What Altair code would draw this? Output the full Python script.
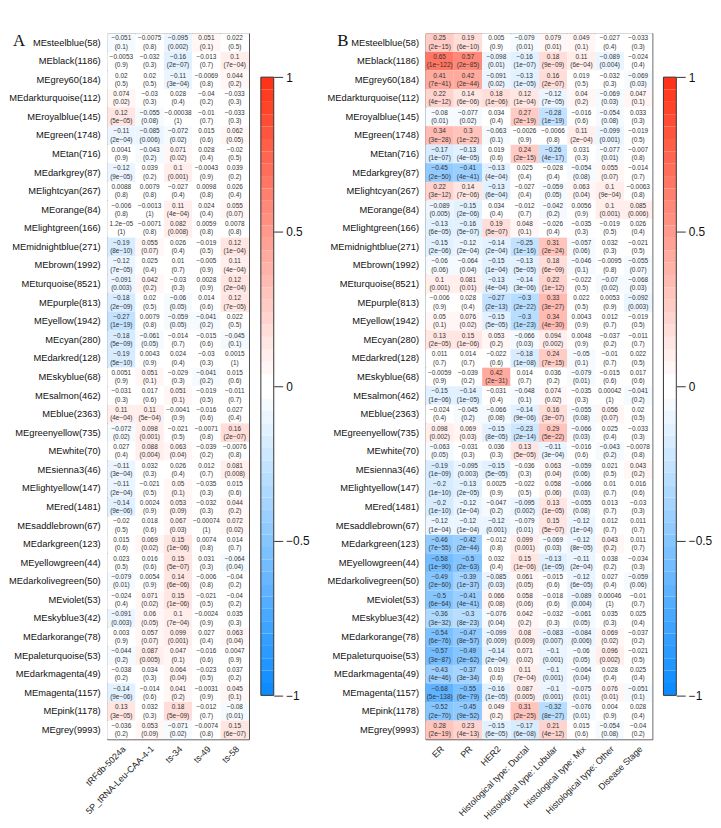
import altair as alt
import pandas as pd
import numpy as np

modules = ["MEsteelblue(58)", "MEblack(1186)", "MEgrey60(184)", "MEdarkturquoise(112)", "MEroyalblue(145)",
           "MEgreen(1748)", "MEtan(716)", "MEdarkgrey(87)", "MElightcyan(267)", "MEorange(84)",
           "MElightgreen(166)", "MEmidnightblue(271)", "MEbrown(1992)", "MEturquoise(8521)", "MEpurple(813)",
           "MEyellow(1942)", "MEcyan(280)", "MEdarkred(128)", "MEskyblue(68)", "MEsalmon(462)",
           "MEblue(2363)", "MEgreenyellow(735)", "MEwhite(70)", "MEsienna3(46)", "MElightyellow(147)",
           "MEred(1481)", "MEsaddlebrown(67)", "MEdarkgreen(123)", "MEyellowgreen(44)", "MEdarkolivegreen(50)",
           "MEviolet(53)", "MEskyblue3(42)", "MEdarkorange(78)", "MEpaleturquoise(53)", "MEdarkmagenta(49)",
           "MEmagenta(1157)", "MEpink(1178)", "MEgrey(9993)"]

traits_a = ["tRFdb-5024a", "5P_tRNA-Leu-CAA-4-1", "ts-34", "ts-49", "ts-58"]
traits_b = ["ER", "PR", "HER2", "Histological type: Ductal", "Histological type: Lobular",
            "Histological type: Mix", "Histological type: Other", "Disease Stage"]

# ---- Panel A: correlation / p-value, one list per column ----
a1_r = "-0.051 -0.0053 0.02 0.074 0.12 -0.11 0.0041 -0.12 0.0088 -0.006 1.2e-05 -0.19 -0.12 -0.091 -0.18 -0.27 -0.18 -0.19 0.0051 -0.031 0.11 -0.072 0.027 -0.11 -0.11 -0.14 -0.02 0.015 0.023 -0.079 -0.024 -0.091 0.003 -0.044 -0.038 -0.14 0.13 -0.036".split()
a1_p = "0.1 0.9 0.5 0.02 5e-05 2e-04 0.9 9e-05 0.8 0.8 1 8e-10 7e-05 0.003 2e-09 1e-19 5e-09 5e-10 0.9 0.3 4e-04 0.02 0.4 3e-04 2e-04 9e-06 0.5 0.6 0.5 0.01 0.4 0.003 0.9 0.2 0.2 9e-06 3e-05 0.2".split()
a2_r = "-0.0075 -0.032 0.02 -0.03 -0.055 -0.085 -0.043 0.039 0.0079 -0.0013 -0.0071 0.055 0.025 0.042 0.02 0.0079 -0.061 0.0043 0.051 0.017 0.11 0.098 0.088 0.032 -0.021 0.0024 0.018 0.069 0.016 0.0054 0.071 0.06 0.057 0.087 0.034 -0.014 0.032 0.053".split()
a2_p = "0.8 0.3 0.5 0.3 0.08 0.006 0.2 0.2 0.8 1 0.8 0.07 0.4 0.2 0.5 0.8 0.05 0.9 0.1 0.6 5e-04 0.001 0.004 0.3 0.5 0.9 0.6 0.02 0.6 0.9 0.02 0.05 0.07 0.005 0.3 0.6 0.3 0.09".split()
a3_r = "-0.095 -0.16 -0.11 0.028 -0.00038 -0.072 0.071 0.1 -0.027 0.11 0.082 0.026 0.01 -0.03 -0.06 -0.059 -0.014 0.024 -0.029 0.051 -0.0041 -0.021 0.063 0.026 0.05 0.053 0.067 0.15 0.15 0.14 0.15 0.1 0.099 0.047 0.064 0.041 0.18 -0.071".split()
a3_p = "0.002 2e-07 3e-04 0.4 1 0.02 0.02 0.001 0.4 4e-04 0.008 0.4 0.7 0.3 0.05 0.05 0.7 0.4 0.3 0.1 0.9 0.5 0.04 0.4 0.1 0.09 0.03 1e-06 5e-07 6e-06 1e-06 7e-04 0.001 0.1 0.04 0.2 5e-09 0.02".split()
a4_r = "0.051 -0.013 -0.0069 -0.04 -0.01 0.015 0.028 -0.0043 0.0098 0.024 0.0059 -0.019 -0.005 0.0028 0.014 -0.041 -0.015 -0.03 -0.041 -0.019 -0.016 -0.0071 -0.039 0.012 -0.035 -0.032 -0.00074 0.0074 0.031 -0.006 -0.021 -0.0024 0.027 -0.016 -0.023 -0.0031 -0.012 -0.0074".split()
a4_p = "0.1 0.7 0.8 0.2 0.7 0.6 0.4 0.9 0.8 0.4 0.8 0.5 0.9 0.9 0.6 0.2 0.6 0.3 0.2 0.5 0.6 0.8 0.2 0.7 0.3 0.3 1 0.8 0.3 0.8 0.5 0.9 0.4 0.6 0.5 0.9 0.7 0.8".split()
a5_r = "0.022 0.1 0.044 -0.033 -0.033 0.062 -0.02 0.039 0.026 0.055 0.0078 0.12 0.11 0.12 0.12 0.022 -0.045 0.0015 0.015 -0.011 0.027 0.16 -0.0076 0.081 0.015 0.044 0.072 0.014 -0.064 -0.04 -0.04 0.035 0.063 0.0047 0.037 0.045 -0.08 0.15".split()
a5_p = "0.5 7e-04 0.2 0.3 0.3 0.05 0.5 0.2 0.4 0.07 0.8 1e-04 4e-04 2e-04 7e-05 0.5 0.1 1 0.6 0.7 0.4 2e-07 0.8 0.008 0.6 0.2 0.02 0.7 0.04 0.2 0.2 0.3 0.04 0.9 0.2 0.1 0.01 6e-07".split()

# ---- Panel B ----
b1_r = "0.25 0.65 0.41 0.22 -0.08 0.34 -0.17 -0.45 0.22 -0.089 -0.13 -0.15 -0.06 0.1 -0.006 0.05 0.13 0.011 -0.0059 -0.15 -0.024 0.098 -0.063 -0.19 -0.2 -0.2 -0.12 -0.46 -0.58 -0.49 -0.5 -0.36 -0.54 -0.57 -0.43 -0.68 -0.52 0.28".split()
b1_p = "2e-15 1e-122 7e-41 4e-12 0.01 3e-28 1e-07 2e-50 3e-12 0.005 6e-05 2e-06 0.06 0.001 0.9 0.1 2e-05 0.7 0.9 1e-06 0.4 0.002 0.05 1e-09 1e-10 1e-10 1e-04 7e-55 1e-90 2e-60 6e-64 3e-32 6e-76 3e-87 4e-46 5e-138 2e-70 2e-19".split()
b2_r = "0.19 0.57 0.42 0.14 -0.077 0.3 -0.13 -0.41 0.14 -0.15 -0.16 -0.12 -0.064 0.081 0.028 0.076 0.15 0.014 -0.039 -0.14 -0.045 0.069 -0.031 -0.095 -0.13 -0.12 -0.12 -0.42 -0.5 -0.39 -0.41 -0.3 -0.47 -0.49 -0.37 -0.55 -0.45 0.23".split()
b2_p = "6e-10 2e-85 2e-44 6e-06 0.02 1e-22 4e-05 4e-41 7e-06 2e-06 5e-07 2e-04 0.04 0.01 0.4 0.02 1e-06 0.7 0.2 1e-05 0.2 0.03 0.3 0.003 2e-05 1e-04 1e-04 2e-44 2e-63 1e-37 4e-41 8e-23 8e-57 2e-62 3e-34 6e-79 9e-52 4e-13".split()
b3_r = "0.005 -0.098 -0.091 0.18 0.034 -0.063 0.019 -0.13 -0.13 0.034 0.19 -0.14 -0.15 -0.13 -0.27 -0.15 0.053 -0.022 0.42 -0.031 -0.066 -0.15 0.036 -0.15 0.0025 -0.047 -0.12 -0.012 0.032 -0.085 0.066 -0.076 -0.099 -0.14 0.019 -0.16 0.049 -0.15".split()
b3_p = "0.9 0.01 0.02 1e-06 0.4 0.1 0.6 4e-04 6e-04 0.4 5e-07 2e-04 1e-04 4e-04 2e-13 5e-05 0.2 0.6 2e-31 0.4 0.08 8e-05 0.3 5e-05 0.9 0.2 0.001 0.8 0.4 0.03 0.08 0.04 0.009 2e-04 0.6 1e-05 0.2 6e-05".split()
b4_r = "-0.079 -0.16 -0.13 0.12 0.27 -0.0026 0.24 0.025 -0.027 -0.012 0.048 -0.25 -0.13 -0.14 -0.3 -0.3 -0.066 -0.18 0.014 -0.048 -0.14 -0.23 0.13 -0.036 -0.022 -0.095 -0.079 0.099 0.15 0.061 0.058 0.042 0.08 0.071 0.11 0.087 0.31 -0.17".split()
b4_p = "0.01 1e-07 1e-05 1e-04 2e-19 0.9 2e-15 0.4 0.4 0.7 0.1 1e-16 5e-05 3e-06 2e-22 1e-23 0.03 1e-08 0.7 0.1 9e-06 2e-14 5e-05 0.3 0.5 0.002 0.01 0.001 1e-06 0.05 0.06 0.2 0.009 0.02 7e-04 0.005 2e-25 6e-08".split()
b5_r = "0.079 0.18 0.16 -0.12 -0.28 -0.0066 -0.26 -0.028 -0.059 -0.042 -0.026 0.31 0.18 0.22 0.33 0.34 0.094 0.24 0.036 0.074 0.16 0.29 -0.11 0.063 0.058 0.13 0.15 -0.069 -0.13 -0.015 -0.018 -0.032 -0.083 -0.1 -0.1 -0.1 -0.32 0.21".split()
b5_p = "0.01 9e-09 2e-07 7e-05 1e-19 0.8 4e-17 0.4 0.05 0.2 0.4 2e-24 6e-09 1e-12 3e-27 4e-30 0.002 7e-15 0.2 0.02 3e-07 5e-22 3e-04 0.04 0.06 1e-05 5e-07 0.03 1e-05 0.6 0.6 0.3 0.007 0.001 0.001 0.001 8e-27 4e-12".split()
b6_r = "0.049 0.11 0.019 0.04 -0.016 0.11 0.031 -0.054 0.063 0.0056 -0.035 -0.057 -0.046 -0.022 0.022 0.0043 0.0048 -0.05 -0.079 -0.035 -0.055 -0.066 -0.016 -0.059 -0.066 -0.055 -0.12 -0.12 -0.11 -0.12 -0.089 -0.061 -0.084 -0.06 -0.064 -0.075 -0.076 0.015".split()
b6_p = "0.1 6e-04 0.5 0.2 0.6 2e-04 0.3 0.08 0.04 0.9 0.3 0.06 0.1 0.5 0.5 0.9 0.9 0.1 0.01 0.3 0.08 0.03 0.6 0.06 0.03 0.08 1e-04 8e-05 2e-04 6e-05 0.004 0.05 0.006 0.05 0.04 0.01 0.01 0.6".split()
b7_r = "-0.027 -0.089 -0.032 -0.069 -0.054 -0.099 -0.077 0.055 0.1 0.1 -0.019 0.032 -0.0095 -0.07 0.0053 0.012 -0.037 -0.01 -0.015 0.00042 0.056 0.025 -0.043 0.021 0.01 0.013 0.012 0.043 0.038 0.027 0.00046 0.035 0.069 0.096 0.028 0.076 0.004 -0.054".split()
b7_p = "0.4 0.004 0.3 0.03 0.08 0.001 0.01 0.07 9e-04 0.001 0.5 0.3 0.8 0.02 0.9 0.7 0.2 0.7 0.6 1 0.07 0.4 0.2 0.5 0.7 0.7 0.7 0.2 0.2 0.4 1 0.3 0.02 0.002 0.4 0.01 0.9 0.08".split()
b8_r = "-0.033 -0.024 -0.069 0.047 0.033 -0.019 -0.007 -0.014 -0.0063 0.085 0.026 -0.021 -0.055 -0.068 -0.092 -0.019 -0.011 0.022 0.017 -0.041 0.02 -0.033 -0.0078 0.043 0.016 -0.03 0.011 0.011 -0.034 -0.059 -0.01 0.025 -0.037 -0.021 0.025 -0.051 0.028 -0.04".split()
b8_p = "0.3 0.4 0.03 0.1 0.3 0.5 0.8 0.7 0.8 0.006 0.4 0.5 0.07 0.03 0.003 0.5 0.7 0.5 0.6 0.2 0.5 0.3 0.8 0.2 0.6 0.3 0.7 0.7 0.3 0.06 0.7 0.4 0.2 0.5 0.4 0.1 0.4 0.2".split()

A_r = [a1_r, a2_r, a3_r, a4_r, a5_r]
A_p = [a1_p, a2_p, a3_p, a4_p, a5_p]
B_r = [b1_r, b2_r, b3_r, b4_r, b5_r, b6_r, b7_r, b8_r]
B_p = [b1_p, b2_p, b3_p, b4_p, b5_p, b6_p, b7_p, b8_p]

MINUS = "\u2212"


def long_table(traits, rcols, pcols):
    recs = []
    for t, rl, pl in zip(traits, rcols, pcols):
        for m, r, p in zip(modules, rl, pl):
            recs.append({"module": m, "trait": t, "r": float(r),
                         "rtxt": r.replace("-", MINUS),
                         "ptxt": "(" + p.replace("-", MINUS) + ")"})
    return pd.DataFrame(recs)


dfA = long_table(traits_a, A_r, A_p)
dfB = long_table(traits_b, B_r, B_p)

# WGCNA-style blueWhiteRed(50) palette
blue_end = np.array([0.05, 0.55, 1.0])
red_end = np.array([1.0, 0.2, 0.09])
white = np.array([1.0, 1.0, 1.0])
steps = np.linspace(0, 1, 25)
pal = [blue_end + (white - blue_end) * s for s in steps] + [white + (red_end - white) * s for s in steps]
palette = ["#%02x%02x%02x" % tuple(int(round(c * 255)) for c in col) for col in pal]
color_scale = alt.Scale(type="quantize", domain=[-1, 1], range=palette)

FONT = "Liberation Sans"
H = 712
CELL = 28.6


def heatmap(df, traits, panel, panel_x):
    base = alt.Chart(df).encode(
        x=alt.X("trait:N", sort=traits,
                axis=alt.Axis(title=None, labelAngle=-45, ticks=False, domain=False,
                              labelFontSize=9, labelPadding=5, labelFont=FONT,
                              labelColor="#222", labelLimit=300)),
        y=alt.Y("module:N", sort=modules,
                axis=alt.Axis(title=None, ticks=False, domain=False, labelFontSize=9.4,
                              labelPadding=7, labelFont=FONT, labelColor="#111",
                              labelLimit=250)),
    )
    rect = base.mark_rect().encode(color=alt.Color("r:Q", scale=color_scale, legend=None))
    t1 = base.mark_text(fontSize=6.5, dy=-4.2, color="#333", font=FONT).encode(text="rtxt:N")
    t2 = base.mark_text(fontSize=6.5, dy=4.2, color="#333", font=FONT).encode(text="ptxt:N")
    tag = alt.Chart(pd.DataFrame({"t": [panel]})).mark_text(
        align="left", baseline="middle", fontSize=17, font="Liberation Serif", color="#111"
    ).encode(text="t:N", x=alt.value(panel_x), y=alt.value(8))
    return alt.layer(rect, t1, t2, tag).properties(width=CELL * len(traits), height=H)


edges = np.linspace(-1, 1, 51)
cb_df = pd.DataFrame({"lo": edges[:-1], "hi": edges[1:]})
cb_df["mid"] = (cb_df["lo"] + cb_df["hi"]) / 2
border_df = pd.DataFrame({"lo": [-1.0], "hi": [1.0]})
CBW = 13


def colorbar():
    yscale = alt.Scale(domain=[-1.142, 1.142], nice=False, zero=False)
    bars = alt.Chart(cb_df).mark_rect(strokeWidth=0).encode(
        x=alt.value(0), x2=alt.value(CBW),
        y=alt.Y("lo:Q", scale=yscale,
                axis=alt.Axis(orient="right", values=[-1, -0.5, 0, 0.5, 1], format=".1~f",
                              tickSize=9, tickColor="#333", tickWidth=1, domain=False, grid=False,
                              labelFontSize=12, labelFont=FONT, labelColor="#111",
                              labelPadding=3, title=None)),
        y2="hi:Q",
        color=alt.Color("mid:Q", scale=color_scale, legend=None),
    )
    border = alt.Chart(border_df).mark_rect(fill="transparent", stroke="#333", strokeWidth=1).encode(
        x=alt.value(0), x2=alt.value(CBW), y=alt.Y("lo:Q", scale=yscale), y2="hi:Q")
    return alt.layer(bars, border).properties(width=CBW, height=H,
                                              view=alt.ViewBackground(stroke="transparent"))


groupA = alt.hconcat(heatmap(dfA, traits_a, "A", -95), colorbar(), spacing=10)
groupB = alt.hconcat(heatmap(dfB, traits_b, "B", -89), colorbar(), spacing=9)

chart = alt.hconcat(groupA, groupB, spacing=16).properties(
    padding={"left": 0, "top": 20, "right": 0, "bottom": 0}
).configure_view(
    stroke="#444", strokeWidth=1
).configure_scale(bandPaddingInner=0)

chart.save("out.html", embed_options={"renderer": "svg", "actions": False})
